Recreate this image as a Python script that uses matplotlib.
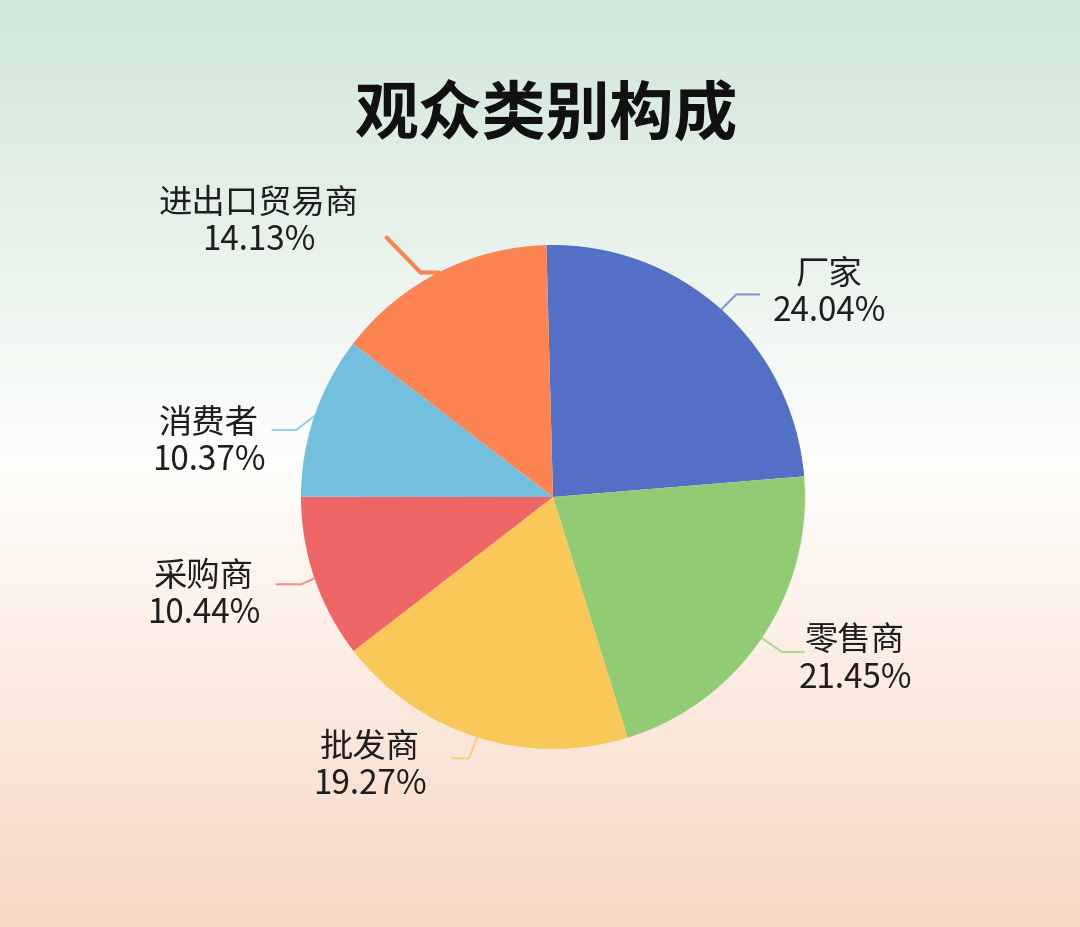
import numpy as np
import matplotlib
matplotlib.use("Agg")
import matplotlib.pyplot as plt

plt.rcParams['font.family'] = ['Noto Sans CJK SC', 'DejaVu Sans']

# data
categories = ["厂家", "零售商", "批发商", "采购商", "消费者", "进出口贸易商"]
shares = [24.04, 21.45, 19.27, 10.44, 10.37, 14.13]
colors = ["#5470c6", "#91cc75", "#fac858", "#ee6666", "#73c0de", "#fc8452"]
title = "观众类别构成"

# layout (pixels from top-left of the 1080x927 canvas)
W, H = 1080, 927
cx, cy, R = 553, 497, 252
# leader line: offset from wedge edge to elbow, then elbow to end
elbow_off = [(15, -15), (20, 14), (-8, 21), (-13, 6), (-18, 14), (-18, 0)]
end_off = [(23, 0), (22, 0), (-17, 0), (-25, 0), (-24, 0), (-34, -35)]
label_pos = [(829, 293), (855, 660), (370, 766), (204, 595), (209, 442), (259, 222)]

fig = plt.figure(figsize=(W / 100, H / 100), dpi=100)
ax = fig.add_axes([0, 0, 1, 1])

wedges, _ = ax.pie(shares, colors=colors, startangle=91.5, counterclock=False,
                   center=(cx, H - cy), radius=R, normalize=True, frame=True,
                   wedgeprops=dict(linewidth=0))
for w in wedges:
    w.set_zorder(2)

# background gradient (top green -> white -> peach)
top = np.array([208, 230, 218]) / 255
mid = np.array([254, 254, 252]) / 255
bot = np.array([248, 214, 196]) / 255
t = np.linspace(0, 1, 400)[:, None]
grad = np.where(t < 0.5, top + (mid - top) * (t / 0.5), mid + (bot - mid) * ((t - 0.5) / 0.5))
ax.imshow(grad[:, None, :], extent=[0, W, 0, H], aspect='auto', zorder=0, origin='upper')

for i, w in enumerate(wedges):
    ang = np.deg2rad((w.theta1 + w.theta2) / 2)
    ex = cx + R * np.cos(ang)
    ey = (H - cy) + R * np.sin(ang)
    bx, by = ex + elbow_off[i][0], ey - elbow_off[i][1]
    fx, fy = bx + end_off[i][0], by - end_off[i][1]
    lw = 3 if i == 5 else 1.5
    alpha = 1 if i == 5 else 0.7
    ax.plot([ex, bx, fx], [ey, by, fy], color=colors[i], lw=lw, alpha=alpha,
            zorder=1, solid_capstyle='round')
    lx, ly = label_pos[i]
    ax.text(lx, H - ly, f"{categories[i]}\n{shares[i]:.2f}%", ha='center', va='center',
            fontsize=24, color='#1e1e1e', linespacing=1.1, zorder=3)

ax.text(547, H - 116, title, ha='center', va='center', fontsize=46,
        fontweight='bold', color='#111111', zorder=3)

ax.set_xlim(0, W)
ax.set_ylim(0, H)
ax.set_aspect('auto')
ax.axis('off')

fig.savefig("out.png", dpi=100)
